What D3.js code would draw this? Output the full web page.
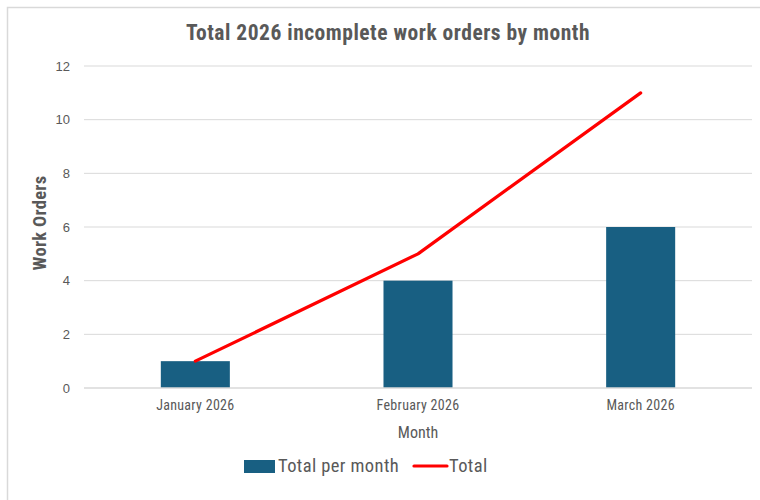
<!DOCTYPE html>
<html><head><meta charset="utf-8">
<script src="https://cdn.jsdelivr.net/npm/d3@7"></script>
<style>
body{margin:0;background:#fff;}
svg{display:block;}
</style></head>
<body>
<svg id="chart" width="760" height="500"></svg>
<script>
const months = ["January 2026", "February 2026", "March 2026"];
const perMonth = [1, 4, 6];
const total = [1, 5, 11];
const yTicks = [0, 2, 4, 6, 8, 10, 12];
const titleText = "Total 2026 incomplete work orders by month";
const yTitle = "Work Orders";
const xTitle = "Month";
const legendLabels = ["Total per month", "Total"];

const svg = d3.select("#chart");
const barColor = "#185f82", lineColor = "#ff0000", textColor = "#595959", gridColor = "#d9d9d9";
const narrow = '"Liberation Sans Narrow","Roboto Condensed","Liberation Sans",sans-serif';

// chart border
svg.append("rect").attr("x", 7.5).attr("y", 7.5).attr("width", 760).attr("height", 500)
  .attr("fill", "#fff").attr("stroke", gridColor).attr("stroke-width", 1.5);

const m = {left: 84, right: 752, top: 66, bottom: 388};
const x = d3.scaleBand().domain(months).range([m.left, m.right]).paddingInner(0).paddingOuter(0);
const y = d3.scaleLinear().domain([0, 12]).range([m.bottom, m.top]);

// gridlines
svg.append("g").selectAll("line").data(yTicks.filter(d => d > 0)).join("line")
  .attr("x1", m.left).attr("x2", m.right)
  .attr("y1", d => y(d)).attr("y2", d => y(d))
  .attr("stroke", gridColor).attr("stroke-width", 1);

// y axis labels
const yAxis = d3.axisLeft(y).tickValues(yTicks).tickSize(0).tickPadding(14);
const gy = svg.append("g").attr("transform", `translate(${m.left},0)`).call(yAxis);
gy.select(".domain").remove();
gy.selectAll("text").attr("fill", textColor).attr("font-size", 13)
  .attr("font-family", '"Liberation Sans",Arial,sans-serif');

// bars
const bw = x.bandwidth() * 0.31;
svg.append("g").selectAll("rect").data(months).join("rect")
  .attr("x", (d) => x(d) + x.bandwidth() / 2 - bw / 2)
  .attr("width", bw)
  .attr("y", (d, i) => y(perMonth[i]))
  .attr("height", (d, i) => y(0) - y(perMonth[i]))
  .attr("fill", barColor);

// x axis
const xAxis = d3.axisBottom(x).tickSize(0).tickPadding(12);
const gx = svg.append("g").attr("transform", `translate(0,${m.bottom})`).call(xAxis);
gx.select(".domain").attr("stroke", gridColor).attr("stroke-width", 1.5)
  .attr("d", `M${m.left},0H${m.right}`);
gx.selectAll("text").attr("fill", textColor).attr("font-size", 14).attr("font-family", narrow)
  .attr("letter-spacing", 0.3);

// line
const line = d3.line().x((d, i) => x(months[i]) + x.bandwidth() / 2).y(d => y(d));
svg.append("path").datum(total).attr("d", line).attr("fill", "none")
  .attr("stroke", lineColor).attr("stroke-width", 3.2).attr("stroke-linecap", "round")
  .attr("stroke-linejoin", "round");

// title
svg.append("text").attr("x", 388).attr("y", 40).attr("text-anchor", "middle")
  .attr("font-family", narrow).attr("font-weight", "bold").attr("font-size", 21.5)
  .attr("letter-spacing", 0.5)
  .attr("fill", textColor).text(titleText);

// axis titles
svg.append("text").attr("transform", `translate(46,${(m.top + m.bottom) / 2 - 4}) rotate(-90)`)
  .attr("text-anchor", "middle").attr("font-family", narrow)
  .attr("font-weight", "bold").attr("font-size", 18.5).attr("letter-spacing", 0.3)
  .attr("fill", textColor).text(yTitle);
svg.append("text").attr("x", (m.left + m.right) / 2).attr("y", 438).attr("text-anchor", "middle")
  .attr("font-family", narrow).attr("font-size", 16).attr("fill", textColor).text(xTitle);

// legend
const lg = svg.append("g");
lg.append("rect").attr("x", 244).attr("y", 460).attr("width", 31).attr("height", 13).attr("fill", barColor);
lg.append("text").attr("x", 278).attr("y", 472).attr("font-family", narrow).attr("font-size", 18.5)
  .attr("letter-spacing", 0.4)
  .attr("fill", textColor).text(legendLabels[0]);
lg.append("line").attr("x1", 414).attr("x2", 447).attr("y1", 466).attr("y2", 466)
  .attr("stroke", lineColor).attr("stroke-width", 3.2).attr("stroke-linecap", "round");
lg.append("text").attr("x", 449).attr("y", 472).attr("font-family", narrow).attr("font-size", 18.5)
  .attr("letter-spacing", 0.4)
  .attr("fill", textColor).text(legendLabels[1]);
</script>
</body></html>
